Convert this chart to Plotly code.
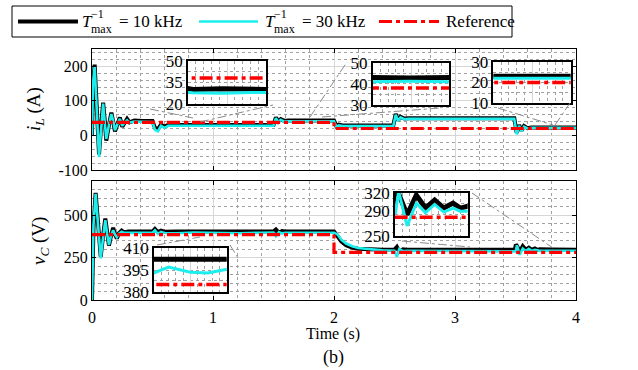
import plotly.graph_objects as go

# ---------------- data ----------------
# inductor current i_L (A)
t_i = [0.000, 0.008, 0.022, 0.040, 0.058, 0.075, 0.092, 0.105, 0.118, 0.140,
       0.160, 0.175, 0.190, 0.210, 0.230, 0.250, 0.270, 0.290, 0.310, 0.350,
       0.420, 0.500, 0.520, 0.545, 0.570, 0.600, 0.630, 0.700, 1.000, 1.300,
       1.500, 1.520, 1.540, 1.560, 1.590, 1.620, 1.800, 2.000, 2.020, 2.040,
       2.070, 2.300, 2.490, 2.510, 2.530, 2.550, 2.580, 2.620, 3.000, 3.490,
       3.510, 3.530, 3.550, 3.570, 3.600, 3.630, 3.800, 4.000]
iL_10k = [0, 140, 205, 70, -55, 25, 95, 45, -15, 30,
          66, 40, 12, 32, 52, 25, 38, 48, 38, 43,
          42, 42, 22, 18, 31, 25, 31, 30, 30.5, 30,
          30, 52, 40, 47, 42, 43, 42.8, 43, 27, 31,
          29, 29, 29, 62, 44, 54, 49, 50, 50, 50,
          8, 30, 14, 27, 21, 23, 23, 23]
iL_30k = [0, 150, 200, 60, -62, 15, 92, 40, -10, 30,
          62, 42, 15, 32, 48, 28, 38, 44, 37, 40,
          39, 39, 16, 12, 28, 22, 28, 27.8, 27.5, 28,
          28, 50, 38, 45, 40, 41, 41.2, 41, 25, 29,
          27, 27, 27, 60, 42, 52, 47, 48, 48, 48,
          3, 28, 12, 25, 20, 22, 22, 22]

# capacitor voltage v_C (V)
t_v = [0.000, 0.012, 0.030, 0.050, 0.072, 0.092, 0.110, 0.125, 0.140, 0.157,
       0.175, 0.190, 0.205, 0.225, 0.245, 0.265, 0.300, 0.400, 0.500, 0.520,
       0.545, 0.570, 0.600, 0.700, 0.840, 1.050, 1.220, 1.400, 1.500, 1.520,
       1.545, 1.570, 1.600, 1.800, 2.000, 2.030, 2.060, 2.100, 2.150, 2.200,
       2.300, 2.400, 2.500, 2.520, 2.540, 2.570, 2.600, 3.000, 3.495, 3.503,
       3.512, 3.535, 3.560, 3.585, 3.610, 3.635, 3.660, 3.680, 3.700, 3.800,
       4.000]
vC_10k = [0, 420, 630, 460, 255, 380, 480, 400, 320, 378,
          425, 385, 362, 395, 408, 398, 403, 402.5, 402.5, 418,
          398, 408, 402, 402.5, 402.5, 402.5, 402.5, 402.5, 402.5, 415,
          395, 406, 402.5, 402.5, 403, 375, 345, 322, 308, 301,
          296, 296, 296, 312, 286, 298, 296, 296, 296, 326,
          318, 284, 316, 295, 308, 295, 303, 295, 298, 297,
          296]
vC_30k = [0, 440, 625, 440, 245, 370, 470, 390, 325, 380,
          410, 385, 370, 392, 402, 395, 396, 395, 395, 410,
          388, 400, 394, 393, 397, 393.5, 393, 395.5, 396, 375,
          400, 392, 396, 396, 396, 385, 355, 332, 316, 306,
          298, 292, 290, 255, 300, 287, 290, 290, 290, 286,
          322, 266, 303, 287.5, 301, 288.5, 295, 290, 289, 290,
          290]

# references (step at t = 2 s)
t_ref = [0, 2, 4]
iL_ref = [38, 20, 20]
vC_ref = [385, 280, 280]

# tick labels
x_ticks = [0, 1, 2, 3, 4]
iL_ticks = [-100, 0, 100, 200]
iL_ticktext = ["-100", "0", "100", "200"]
vC_ticks = [0, 250, 500]

names = ["T_max^-1 = 10 kHz", "T_max^-1 = 30 kHz", "Reference"]

# ---------------- layout helpers ----------------
W, H = 638, 370
L, R, T, B = 92, 576, 49, 300


def X(px):
    return (px - L) / (R - L)


def Y(py):
    return (B - py) / (B - T)


FONT = "Liberation Serif"
BLACK, CYAN, RED = "#000000", "#1CEEEE", "#FF0000"
DASHDOT = "13px,4px,4px,4px"

fig = go.Figure()


def add_set(t, blk, cyn, ref, xa, ya, wb=4, wc=2.6, wr=3.2):
    fig.add_trace(go.Scatter(x=t, y=blk, mode="lines", name=names[0],
                             line=dict(color=BLACK, width=wb),
                             showlegend=False, xaxis=xa, yaxis=ya))
    fig.add_trace(go.Scatter(x=t, y=cyn, mode="lines", name=names[1],
                             line=dict(color=CYAN, width=wc),
                             showlegend=False, xaxis=xa, yaxis=ya))
    fig.add_trace(go.Scatter(x=t_ref, y=ref, mode="lines", name=names[2],
                             line=dict(color=RED, width=wr, dash=DASHDOT, shape="hv"),
                             showlegend=False, xaxis=xa, yaxis=ya))


add_set(t_i, iL_10k, iL_30k, iL_ref, "x", "y")
add_set(t_v, vC_10k, vC_30k, vC_ref, "x2", "y2")

tickfont = dict(family=FONT, size=16, color="black")
itickfont = dict(family=FONT, size=17, color="black")
base = dict(showline=True, linecolor="black", linewidth=1, mirror="ticks",
            ticks="inside", ticklen=4, tickcolor="black", tickfont=tickfont,
            showgrid=True, gridcolor="#d6d6d6", gridwidth=1, zeroline=False,
            automargin=False)


def minor(d):
    return dict(dtick=d, showgrid=True, gridcolor="#a0a0a0", griddash="dot",
                gridwidth=1, ticks="")


layout = dict(
    width=W, height=H,
    margin=dict(l=L, r=W - R, t=T, b=H - B),
    paper_bgcolor="white", plot_bgcolor="white",
    font=dict(family=FONT, color="black"),
    showlegend=False,
    xaxis=dict(base, domain=[0, 1], anchor="y", range=[0, 4], tickvals=x_ticks,
               showticklabels=False, minor=minor(0.2)),
    yaxis=dict(base, domain=[Y(170), 1], anchor="x", range=[-100, 250],
               tickvals=iL_ticks, ticktext=iL_ticktext, minor=minor(20)),
    xaxis2=dict(base, domain=[0, 1], anchor="y2", range=[0, 4], tickvals=x_ticks,
                ticklabelstandoff=3, minor=minor(0.2)),
    yaxis2=dict(base, domain=[0, Y(181)], anchor="x2", range=[0, 700],
                tickvals=vC_ticks, minor=minor(50)),
)

# ---------------- insets ----------------
# (px box x0, x1, ytop, ybottom), time window, y range, y ticks, signal
insets = [
    ((188, 266, 60.7, 104), (0.65, 1.45), (20, 50), [20, 35, 50], "i"),
    ((372.7, 449.3, 62.7, 105), (1.63, 1.98), (30, 50), [30, 40, 50], "i"),
    ((493.3, 570.7, 61.7, 103.3), (3.64, 3.98), (10, 30), [10, 20, 30], "i"),
    ((154, 226.7, 248.3, 291.7), (0.70, 1.40), (380, 410), [380, 395, 410], "v"),
    ((395, 467.7, 192.7, 235.7), (3.502, 3.70), (250, 320), [250, 290, 320], "v"),
]

shapes = []
for k, (box, xw, yr, yt, sig) in enumerate(insets):
    n = k + 3
    xa, ya = f"x{n}", f"y{n}"
    span = xw[1] - xw[0]
    layout[f"xaxis{n}"] = dict(domain=[X(box[0]), X(box[1])], anchor=ya, range=list(xw),
                               showline=True, linecolor="black", linewidth=1.5, mirror=True,
                               ticks="", showticklabels=False, zeroline=False, automargin=False,
                               showgrid=True, gridcolor="#d6d6d6", tick0=xw[0], dtick=span / 2,
                               minor=dict(tick0=xw[0], dtick=span / 10, showgrid=True,
                                          gridcolor="#a0a0a0", griddash="dot", ticks=""))
    layout[f"yaxis{n}"] = dict(domain=[Y(box[3]), Y(box[2])], anchor=xa, range=list(yr),
                               showline=True, linecolor="black", linewidth=1.5, mirror=True,
                               ticks="", tickvals=yt, tickfont=itickfont, zeroline=False,
                               showgrid=False, automargin=False,
                               minor=dict(dtick=(yr[1] - yr[0]) / 4, tick0=yr[0], showgrid=True,
                                          gridcolor="#a0a0a0", griddash="dot", ticks=""))
    shapes.append(dict(type="rect", xref=xa, yref=ya, x0=xw[0], x1=xw[1], y0=yr[0], y1=yr[1],
                       layer="below", fillcolor="white", line=dict(width=0)))
    if sig == "i":
        add_set(t_i, iL_10k, iL_30k, iL_ref, xa, ya, wb=5, wc=3, wr=3.5)
    else:
        add_set(t_v, vC_10k, vC_30k, vC_ref, xa, ya, wb=5, wc=3, wr=3.5)

# zoom connector lines (pixel coordinates of the drawing)
connectors = [
    ((150, 109), (193, 118)), ((200, 122), (273, 105)),
    ((310, 117), (347, 62)), ((322, 117), (440, 108)),
    ((498, 108), (553, 125)), ((555, 125), (570, 103)),
    ((157, 245), (200, 237)), ((230, 245), (238, 258)),
    ((472, 193), (553, 248)), ((402, 241), (470, 247)),
]
for (a, b) in connectors:
    shapes.append(dict(type="line", xref="paper", yref="paper",
                       x0=X(a[0]), y0=Y(a[1]), x1=X(b[0]), y1=Y(b[1]),
                       line=dict(color="#8a8a8a", width=1, dash="dashdot"), layer="above"))

# ---------------- legend (drawn box) ----------------
LEG_Y = 21.5
shapes.append(dict(type="rect", xref="paper", yref="paper",
                   x0=X(12), x1=X(512), y0=Y(37), y1=Y(6),
                   fillcolor="white", line=dict(color="black", width=1), layer="above"))
leg_items = [  # (line x0, x1, colour, width, dash)
    (18, 78, BLACK, 4, "solid"),
    (199, 258, CYAN, 2.6, "solid"),
    (379, 439, RED, 3.2, DASHDOT),
]
for (x0, x1, c, w, d) in leg_items:
    shapes.append(dict(type="line", xref="paper", yref="paper",
                       x0=X(x0), x1=X(x1), y0=Y(LEG_Y), y1=Y(LEG_Y),
                       line=dict(color=c, width=w, dash=d), layer="above"))
layout["shapes"] = shapes

lf = dict(family=FONT, size=17, color="black")
sf = dict(family=FONT, size=12, color="black")
ann = []
for (xT, xr, val) in [(80, 89, "= 10 kHz"), (263, 272, "= 30 kHz")]:
    ann.append(dict(text="<i>T</i>", x=X(xT), y=Y(LEG_Y), xanchor="left", font=lf))
    ann.append(dict(text="−1", x=X(xr), y=Y(14.5), xanchor="left", font=sf))
    ann.append(dict(text="max", x=X(xr), y=Y(28.5), xanchor="left", font=sf))
    ann.append(dict(text=val, x=X(xr + 28), y=Y(LEG_Y), xanchor="left", font=lf))
ann.append(dict(text="Reference", x=X(444), y=Y(LEG_Y), xanchor="left", font=lf))
ann += [
    dict(text="<i>i<sub>L</sub></i> (A)", x=X(35), y=Y(109), textangle=-90,
         xanchor="center", font=dict(family=FONT, size=19)),
    dict(text="<i>v<sub>C</sub></i> (V)", x=X(40), y=Y(241), textangle=-90,
         xanchor="center", font=dict(family=FONT, size=19)),
    dict(text="Time (s)", x=X(333), y=Y(334), xanchor="center",
         font=dict(family=FONT, size=16)),
    dict(text="(b)", x=X(333), y=Y(357), xanchor="center",
         font=dict(family=FONT, size=18)),
]
for a in ann:
    a.update(xref="paper", yref="paper", showarrow=False, yanchor="middle")
layout["annotations"] = ann

fig.update_layout(layout)
fig.write_html("out.html", config={"displayModeBar": False},
               post_script="document.body.style.margin='0px';document.body.style.overflow='hidden';")
